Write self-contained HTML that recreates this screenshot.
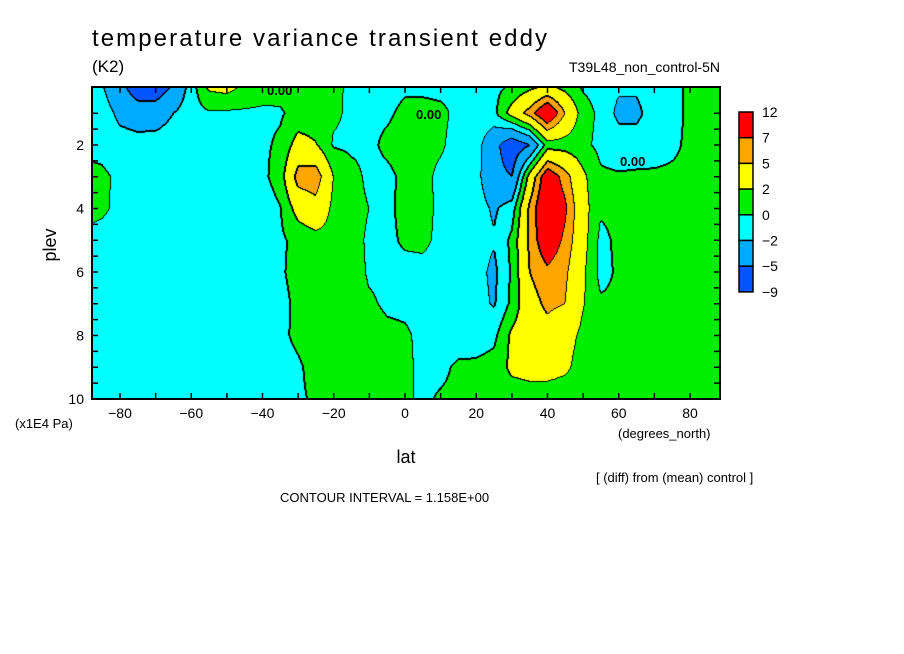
<!DOCTYPE html>
<html><head><meta charset="utf-8"><style>
html,body{margin:0;padding:0;background:#fff;width:904px;height:654px;overflow:hidden}
#wrap{position:relative;width:904px;height:654px}
canvas{position:absolute;left:92px;top:87px}
svg{position:absolute;left:0;top:0}
text{font-family:"Liberation Sans",sans-serif;fill:#000}
</style></head><body>
<div id="wrap">
<canvas id="cv" width="628" height="312"></canvas>
<svg id="sv" width="904" height="654"></svg>
</div>
<script>
// ---- data ----
const lats = [-90,-85,-80,-75,-70,-65,-60,-55,-50,-45,-40,-35,-30,-25,-20,-15,-10,-5,0,5,10,15,20,25,30,35,40,45,50,55,60,65,70,75,80,85,90];
const plevs = [0,1,2,3,4,5,6,7,8,9,10];
const row0 = [-1,-2,-4,-8,-8,-5,-1,3,3.5,2,1,0.8,0.6,0.5,0.4,-0.3,-0.3,-0.5,-0.3,-0.5,-0.5,-0.5,-0.5,-0.5,-0.3,0.5,1,0.5,-0.5,-1,-1.5,-1.5,-1,-0.5,0.3,0.5,0.5];
const row1 = [-0.5,-1,-2.5,-3,-3,-2,-0.8,-0.2,-0.3,-0.3,-0.3,-0.2,0.6,0.5,0.3,-0.3,-0.3,-0.2,0.3,0.5,0.3,-0.3,-0.5,-0.5,3,6,10,5,1,-0.5,-2.5,-2.5,-1,-0.5,0.3,0.5,0.5];
const row2 = [-0.3,-0.5,-1.2,-1.3,-1.2,-1,-0.7,-0.5,-0.4,-0.3,-0.3,0.3,3,2.2,-0.2,-0.3,-0.3,0.3,0.5,0.4,0.2,-0.5,-1,-4,-7,-5,1,1,0.5,-0.5,-1,-1,-0.8,-0.3,0.3,0.4,0.4];
const row3 = [0.4,0.3,-0.3,-0.7,-0.8,-0.8,-0.7,-0.6,-0.6,-0.8,-0.5,1,6,6.5,2,0.5,-0.3,-0.3,0.3,0.4,-0.3,-0.5,-1.2,-4,-5,3,9,6,2.5,0.3,0.2,0.3,0.3,0.3,0.3,0.3,0.3];
const row4 = [0.5,0.3,-0.4,-0.8,-1,-1.2,-1.2,-1,-1,-1.3,-1.2,-0.1,3,4,1.5,0.5,0,-0.3,0.4,0.5,-0.3,-0.5,-1,-2.3,-1,5.5,10,7.5,3,0.3,0.5,0.8,0.8,0.7,0.5,0.4,0.4];
const row5 = [-0.3,-0.6,-0.8,-1.2,-1.3,-1.3,-1.3,-1.2,-1.3,-1.5,-1,-0.3,0.5,1.2,1.3,0.5,-0.2,-0.3,0.2,0.3,-0.3,-0.5,-1,-1.8,0.5,5.5,9,6.5,3,-0.5,0.4,0.8,1.2,1,0.6,0.4,0.4];
const row6 = [-0.3,-0.6,-0.9,-1.3,-1.4,-1.3,-1.2,-1.2,-1.3,-1.1,-0.6,-0.2,0.5,1,1.2,0.8,-0.2,-0.3,-0.4,-0.4,-0.5,-0.8,-1.2,-2.5,0.3,5,6.5,5.5,2.5,-0.6,0.3,0.8,1.2,1,0.6,0.4,0.4];
const row7 = [-0.3,-0.6,-0.9,-1,-1.3,-1.2,-1.2,-1.3,-1.2,-1,-0.8,-0.4,0.3,1,1.3,0.8,0.2,-0.2,-0.3,-0.4,-0.6,-0.9,-1.2,-2.2,0.5,4,5.5,5,2.2,0.3,0.3,0.8,1.2,1,0.6,0.4,0.4];
const row8 = [-0.3,-0.5,-0.8,-1,-1,-1.2,-1.3,-1.3,-1.3,-1.2,-0.8,-0.3,0.3,0.8,1.3,1.2,0.5,0.3,0.2,-0.3,-0.6,-0.9,-1,-0.5,2.5,3.5,4,3,1.5,0.4,0.3,0.5,0.7,0.6,0.5,0.4,0.4];
const row9 = [-0.3,-0.4,-0.6,-0.8,-0.9,-1,-1.2,-1.3,-1.2,-1.1,-0.8,-0.5,-0.2,0.5,1,1.3,0.8,0.5,0.3,-0.3,-0.4,0.3,0.4,0.8,2.5,3,3,2.5,1,0.4,0.3,0.3,0.3,0.3,0.3,0.3,0.3];
const row10 = [-0.3,-0.3,-0.4,-0.5,-0.5,-0.6,-0.7,-0.7,-0.6,-0.5,-0.4,-0.3,-0.2,0.2,0.5,0.6,0.5,0.4,0.3,-0.3,0.2,0.4,0.5,0.6,0.8,0.8,0.8,0.6,0.5,0.3,0.3,0.3,0.3,0.3,0.3,0.3,0.3];
const levels = [-5,-2,0,2,5,7];
const levelColors = ["#0055ff","#00aaff","#00ffff","#00ee00","#ffff00","#ffa500","#ff0000"];
const cbLabels = ["12","7","5","2","0","\u22122","\u22125","\u22129"];
const xTickLabels = [-80,-60,-40,-20,0,20,40,60,80];
const yTickLabels = [2,4,6,8,10];
const grid = [row0,row1,row2,row3,row4,row5,row6,row7,row8,row9,row10];

// ---- axes ----
const X0=92,X1=720,Y0=87,Y1=399;
function xs(lat){return 405+lat*3.5625;}
function ys(p){return 145+(p-2)*31.75;}
function latOf(x){return (x-405)/3.5625;}
function pOf(y){return 2+(y-145)/31.75;}

function sample(lat,p){
  const dl=lats[1]-lats[0];
  let fi=(lat-lats[0])/dl; fi=Math.max(0,Math.min(lats.length-1.001,fi));
  let fj=(p-plevs[0])/(plevs[1]-plevs[0]); fj=Math.max(0,Math.min(plevs.length-1.001,fj));
  const i=Math.floor(fi),j=Math.floor(fj),a=fi-i,b=fj-j;
  const v00=grid[j][i],v10=grid[j][i+1],v01=grid[j+1][i],v11=grid[j+1][i+1];
  return (v00*(1-a)+v10*a)*(1-b)+(v01*(1-a)+v11*a)*b;
}
function cls(v){let k=0;while(k<levels.length&&v>=levels[k])k++;return k;}

const cv=document.getElementById('cv');
const ctx=cv.getContext('2d');
const W=cv.width,H=cv.height;
const C=new Array(W*H);
for(let y=0;y<H;y++)for(let x=0;x<W;x++){C[y*W+x]=cls(sample(latOf(X0+x+0.5),pOf(Y0+y+0.5)));}
const img=ctx.createImageData(W,H);
function hex(h){return [parseInt(h.substr(1,2),16),parseInt(h.substr(3,2),16),parseInt(h.substr(5,2),16)];}
const rgb=levelColors.map(hex);
for(let y=0;y<H;y++)for(let x=0;x<W;x++){
  const k=C[y*W+x];let c=rgb[k];
  const r=x<W-1?C[y*W+x+1]:k, d=y<H-1?C[(y+1)*W+x]:k;
  const l=x>0?C[y*W+x-1]:k, u=y>0?C[(y-1)*W+x]:k;
  if(r!==k||d!==k||(l!==k&&l<k)||(u!==k&&u<k))c=[0,0,0];
  const o=(y*W+x)*4;img.data[o]=c[0];img.data[o+1]=c[1];img.data[o+2]=c[2];img.data[o+3]=255;
}
ctx.putImageData(img,0,0);

// ---- svg overlay ----
const NS="http://www.w3.org/2000/svg";
const sv=document.getElementById('sv');
function mk(tag,attrs,txt){const e=document.createElementNS(NS,tag);for(const k in attrs)e.setAttribute(k,attrs[k]);if(txt!==undefined)e.textContent=txt;sv.appendChild(e);return e;}

let e=mk('rect',{x:X0,y:Y0,width:X1-X0,height:Y1-Y0,fill:'none',stroke:'#000','stroke-width':2});



for(let lat=-80;lat<=80;lat+=10){
  const x=xs(lat);
  e=mk('line',{x1:x,y1:Y1,x2:x,y2:Y1-6,stroke:'#000','stroke-width':1.5});
  
  
  e=mk('line',{x1:x,y1:Y0,x2:x,y2:Y0+6,stroke:'#000','stroke-width':1.5});
  
  
}
xTickLabels.forEach(v=>{
  e=mk('text',{x:xs(v),y:418,'font-size':14,'text-anchor':'middle'},v<0?'\u2212'+(-v):String(v));
  
  
});
for(let p=1;p<=10;p+=0.5){
  const y=ys(p); if(y<Y0+2)continue;
  e=mk('line',{x1:X0,y1:y,x2:X0+6,y2:y,stroke:'#000','stroke-width':1.5});
  
  
  e=mk('line',{x1:X1,y1:y,x2:X1-6,y2:y,stroke:'#000','stroke-width':1.5});
  
  
}
yTickLabels.forEach(v=>{
  e=mk('text',{x:84,y:ys(v)+5,'font-size':14,'text-anchor':'end'},String(v));
  
  
});

// colorbar
const cbX=739,cbTop=112,cbH=25.7;
for(let i=0;i<7;i++){
  e=mk('rect',{x:cbX,y:cbTop+i*cbH,width:14,height:cbH,fill:levelColors[6-i],stroke:'#000','stroke-width':1.5});
  
  
}
cbLabels.forEach((t,i)=>{
  e=mk('text',{x:762,y:cbTop+i*cbH+5,'font-size':14},t);
  
  
});

// contour labels
[[267,95,'0.00'],[416,119,'0.00'],[620,166,'0.00']].forEach(a=>{
  e=mk('text',{x:a[0],y:a[1],'font-size':13,'font-weight':'bold'},a[2]);
  
  
});

// texts
function T(name,x,y,size,txt,extra){const a={x:x,y:y,'font-size':size};for(const k in (extra||{}))a[k]=extra[k];e=mk('text',a,txt);return e;}
T('chart-title',92,46,24,'temperature variance transient eddy',{textLength:455});
T('units-label',92,72,17,'(K2)');
T('experiment-label',720,72,14,'T39L48_non_control-5N',{'text-anchor':'end'});
T('x-axis-title',406,463,18,'lat',{'text-anchor':'middle'});
T('x-axis-units',618,438,13,'(degrees_north)');
T('y-axis-units',15,428,13,'(x1E4 Pa)');
T('diff-note',596,482,13,'[ (diff) from (mean) control ]');
T('contour-interval',280,502,13,'CONTOUR INTERVAL = 1.158E+00');
e=mk('text',{x:0,y:0,'font-size':18,'text-anchor':'middle',transform:'translate(56,245) rotate(-90)'},'plev');


</script>
</body></html>
